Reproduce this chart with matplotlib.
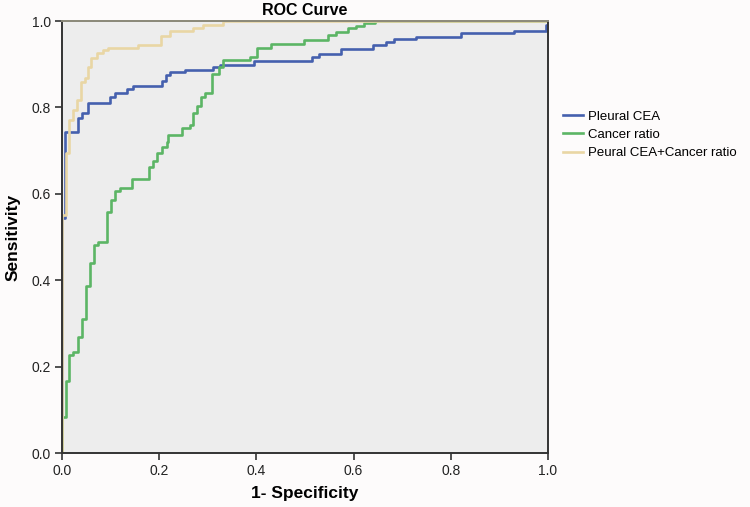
import matplotlib
matplotlib.use("Agg")
import matplotlib.pyplot as plt

plt.rcParams["font.family"] = ["Liberation Sans", "DejaVu Sans"]

# ROC step vertices (1-specificity, sensitivity)
cea_fpr = [0, 0, 0.006, 0.033, 0.041, 0.054, 0.099, 0.109, 0.134, 0.146, 0.206, 0.214, 0.223,
           0.254, 0.311, 0.326, 0.394, 0.515, 0.528, 0.573, 0.639, 0.666, 0.683, 0.728, 0.82,
           0.93, 0.995, 1.0]
cea_tpr = [0, 0.544, 0.743, 0.775, 0.788, 0.81, 0.824, 0.833, 0.843, 0.849, 0.861, 0.875, 0.882,
           0.887, 0.894, 0.898, 0.907, 0.917, 0.924, 0.935, 0.944, 0.951, 0.958, 0.963, 0.972,
           0.977, 0.99, 1.0]

ratio_fpr = [0, 0, 0.008, 0.015, 0.023, 0.033, 0.041, 0.049, 0.058, 0.066, 0.074, 0.093, 0.101,
             0.109, 0.12, 0.144, 0.179, 0.188, 0.196, 0.206, 0.216, 0.219, 0.247, 0.264, 0.27,
             0.278, 0.285, 0.295, 0.309, 0.322, 0.332, 0.386, 0.402, 0.429, 0.497, 0.548, 0.563,
             0.588, 0.604, 0.621, 0.645, 1.0]
ratio_tpr = [0, 0.083, 0.167, 0.227, 0.234, 0.269, 0.31, 0.387, 0.44, 0.481, 0.488, 0.558, 0.586,
             0.606, 0.613, 0.634, 0.662, 0.676, 0.694, 0.708, 0.72, 0.736, 0.752, 0.759, 0.787,
             0.803, 0.824, 0.833, 0.877, 0.893, 0.91, 0.917, 0.937, 0.948, 0.956, 0.968, 0.975,
             0.984, 0.988, 0.995, 1.0, 1.0]

comb_fpr = [0, 0, 0.008, 0.015, 0.023, 0.03, 0.04, 0.047, 0.054, 0.06, 0.072, 0.085, 0.095,
            0.157, 0.204, 0.223, 0.27, 0.29, 0.332, 1.0]
comb_tpr = [0, 0.55, 0.694, 0.77, 0.794, 0.817, 0.859, 0.868, 0.894, 0.914, 0.926, 0.933, 0.937,
            0.944, 0.965, 0.977, 0.984, 0.991, 1.0, 1.0]

labels = ["Pleural CEA", "Cancer ratio", "Peural CEA+Cancer ratio"]
colors = ["#4560AE", "#5CB565", "#E9D6A4"]
ticks = [0.0, 0.2, 0.4, 0.6, 0.8, 1.0]

fig = plt.figure(figsize=(7.5, 5.07), dpi=100, facecolor="#FDFBFB")
ax = fig.add_axes([0.0827, 0.1065, 0.648, 0.852])
ax.set_facecolor("#EDEDED")

for fx, ty, c, lab in zip([cea_fpr, ratio_fpr, comb_fpr], [cea_tpr, ratio_tpr, comb_tpr], colors, labels):
    ax.plot(fx, ty, drawstyle="steps-post", color=c, lw=1.9, label=lab)

tickfont = dict(family=["Liberation Sans Narrow", "Liberation Sans", "DejaVu Sans"], size=10)
ax.set_xlim(0, 1)
ax.set_ylim(0, 1)
ax.set_xticks(ticks)
ax.set_yticks(ticks)
ax.set_xticklabels([f"{t:.1f}" for t in ticks], fontdict=tickfont)
ax.set_yticklabels([f"{t:.1f}" for t in ticks], fontdict=tickfont)
ax.tick_params(direction="out", length=5, width=1.2, colors="#333333", labelcolor="#222222", pad=3)
for s in ["left", "bottom", "right"]:
    ax.spines[s].set_color("#333333")
    ax.spines[s].set_linewidth(1.4)
ax.spines["top"].set_color("#8A8878")
ax.spines["top"].set_linewidth(1.4)

ax.set_xlabel("1- Specificity", fontsize=12.5, fontweight="bold", labelpad=6)
ax.set_ylabel("Sensitivity", fontsize=12.5, fontweight="bold", labelpad=8)
ax.set_title("ROC Curve", fontsize=11.5, fontweight="bold", pad=4)

leg = ax.legend(loc="upper left", bbox_to_anchor=(1.02, 0.805), frameon=False, fontsize=9.5,
                handlelength=1.5, handletextpad=0.4, labelspacing=0.45, borderaxespad=0)

fig.savefig("out.png", dpi=100, facecolor=fig.get_facecolor())
